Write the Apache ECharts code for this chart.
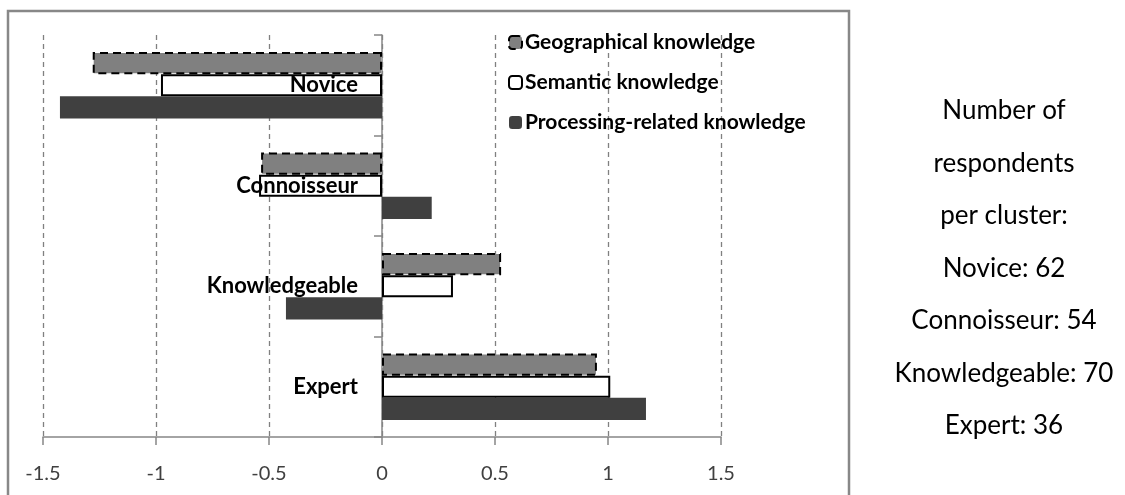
<!DOCTYPE html>
<html>
<head>
<meta charset="utf-8">
<script src="https://cdn.jsdelivr.net/npm/echarts@6/dist/echarts.min.js"></script>
<style>
	html, body { margin: 0; padding: 0; background: #fff; }
	#main { width: 1125px; height: 495px; }
</style>
</head>
<body>
<div id="main"></div>
<script>
// clusters, top to bottom
var clusters = ['Novice', 'Connoisseur', 'Knowledgeable', 'Expert'];
var seriesNames = ['Geographical knowledge', 'Semantic knowledge', 'Processing-related knowledge'];
var geographical = [-1.28, -0.535, 0.527, 0.951];
var semantic = [-0.978, -0.544, 0.314, 1.01];
var processing = [-1.425, 0.22, -0.425, 1.168];
var respondents = [62, 54, 70, 36];
var noteHeader = ['Number of', 'respondents', 'per cluster:'];

var chart = echarts.init(document.getElementById('main'));

var geoStyle = { color: '#808080', borderColor: '#000', borderWidth: 2, borderType: [8, 5] };
var semStyle = { color: '#ffffff', borderColor: '#000', borderWidth: 2 };
var procStyle = { color: '#404040' };

// text on the right
var noteLines = noteHeader.concat(clusters.map(function (c, i) {
	return c + ': ' + respondents[i];
}));

chart.setOption({
	animation: false,
	grid: { left: 43, right: 404, top: 35, bottom: 58, containLabel: false, outerBoundsMode: 'none' },
	legend: {
		orient: 'vertical',
		left: 503,
		top: 27,
		itemWidth: 13,
		itemHeight: 13,
		itemGap: 19,
		textStyle: { fontFamily: 'Lato', fontWeight: 'bold', fontSize: 21, color: '#000', padding: [0, 0, 0, -2] },
		data: [
			{ name: seriesNames[0], itemStyle: geoStyle },
			{ name: seriesNames[1], itemStyle: semStyle },
			{ name: seriesNames[2], itemStyle: procStyle }
		]
	},
	xAxis: {
		type: 'value',
		min: -1.5,
		max: 1.5,
		interval: 0.5,
		axisLine: { show: true, lineStyle: { color: '#868686', width: 1.5 } },
		axisTick: { show: true, length: 8, lineStyle: { color: '#868686', width: 1.5 } },
		axisLabel: { margin: 27, fontFamily: 'Lato', fontSize: 20, color: '#404040' },
		splitLine: { show: true, lineStyle: { color: '#808080', type: [5, 4], width: 1.3 } }
	},
	yAxis: [
		{
			type: 'category',
			inverse: true,
			data: clusters,
			axisLine: { onZero: true, lineStyle: { color: '#868686', width: 1.5 } },
			axisTick: { show: true, length: 8, lineStyle: { color: '#868686', width: 1.5 } },
			axisLabel: { show: false }
		},
		{
			// labels only, shifted next to the zero line
			type: 'category',
			inverse: true,
			position: 'left',
			offset: -339,
			data: clusters,
			z: 5,
			axisLine: { show: false, onZero: false },
			axisTick: { show: false },
			axisLabel: { margin: 24, padding: [5, 0, 0, 0], fontFamily: 'Lato', fontWeight: 'bold', fontSize: 22, color: '#000' }
		}
	],
	series: [
		{ name: seriesNames[0], type: 'bar', data: geographical, barGap: '0%', barCategoryGap: '34%', itemStyle: geoStyle },
		{ name: seriesNames[1], type: 'bar', data: semantic, itemStyle: semStyle },
		{ name: seriesNames[2], type: 'bar', data: processing, itemStyle: procStyle }
	],
	graphic: [
		{
			type: 'rect',
			shape: { x: 8, y: 11, width: 841, height: 600 },
			style: { fill: 'none', stroke: '#888888', lineWidth: 2.5 },
			silent: true
		}
	].concat(noteLines.map(function (line, i) {
		return {
			type: 'text',
			x: 1004,
			y: 111 + i * 52.5,
			style: {
				text: line,
				fontFamily: 'Lato',
				fontSize: 26,
				fill: '#000',
				textAlign: 'center',
				textVerticalAlign: 'middle'
			}
		};
	}))
});
</script>
</body>
</html>
